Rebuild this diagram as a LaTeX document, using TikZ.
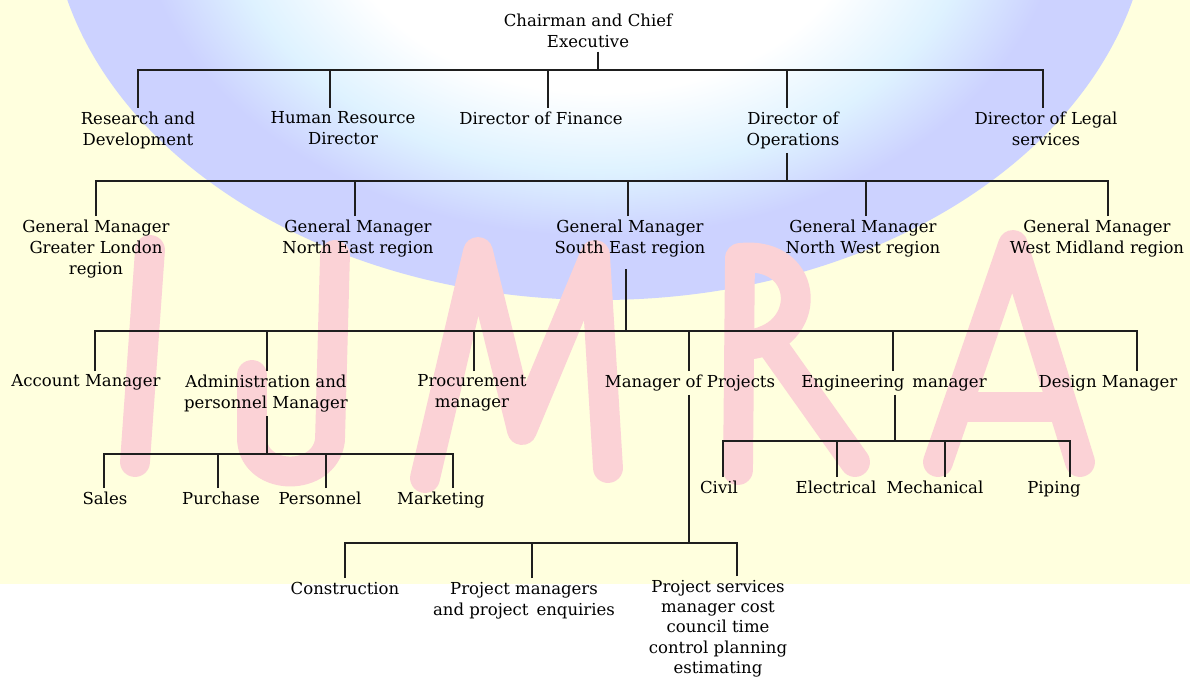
\documentclass[tikz,border=0pt]{standalone}
\usepackage{fontspec}
\setmainfont{DejaVu Serif}
\usetikzlibrary{calc}
\definecolor{bgyellow}{RGB}{255,255,222}
\definecolor{globeblue}{RGB}{204,210,255}
\definecolor{globecyan}{RGB}{222,242,255}
\definecolor{wmpink}{RGB}{251,210,214}
\definecolor{linegray}{RGB}{30,30,30}
\pgfdeclareradialshading{globe}{\pgfpoint{0bp}{0bp}}{color(0bp)=(white); color(12bp)=(white); color(17bp)=(globecyan); color(21bp)=(globeblue); color(25bp)=(globeblue); color(50bp)=(globeblue)}
\begin{document}
\begin{tikzpicture}[x=0.02cm, y=-0.02cm,
    lbl/.style={anchor=north, align=center, inner sep=2pt, text=black, font=\fontsize{9.4}{12}\selectfont},
    wm/.style={wmpink, line width=17pt, line cap=round, line join=round},
    conn/.style={linegray, line width=0.8pt}]
    \useasboundingbox (0,0) rectangle (1190,679);

    % background and watermark
    \begin{scope}
        \clip (0,0) rectangle (1190,679);
        \fill[bgyellow] (0,0) rectangle (1190,584);
        \shade[shading=globe] (600,-100) ellipse (550 and 400);
    \end{scope}
    \draw[wm] (150,250) -- (135,462);
    \draw[wm] (335,255) -- (330,440) .. controls (325,482) and (255,482) .. (252,440) -- (252,375);
    \draw[wm] (425,478) -- (478,252) -- (522,430) -- (595,255) -- (608,468);
    \draw[wm] (738,470) -- (740,258) .. controls (812,250) and (815,340) .. (745,345);
    \draw[wm] (772,345) -- (855,462);
    \draw[wm] (938,462) -- (1013,245) -- (1080,462);
    \draw[wm] (962,407) -- (1060,407);

    % top
    \node[lbl] (ceo) at (588,10) {Chairman and Chief\\Executive};

    % directors
    \node[lbl] (rd) at (138,108) {Research and\\Development};
    \node[lbl] (hr) at (343,108) {Human Resource\\Director};
    \node[lbl] (fin) at (541,108) {Director of Finance};
    \node[lbl] (ops) at (793,108) {Director of\\Operations};
    \node[lbl] (legal) at (1046,108) {Director of Legal\\services};

    % regions
    \node[lbl] (gml) at (96,216) {General Manager\\Greater London\\region};
    \node[lbl] (gmne) at (358,216) {General Manager\\North East region};
    \node[lbl] (gmse) at (630,216) {General Manager\\South East region};
    \node[lbl] (gmnw) at (863,216) {General Manager\\North West region};
    \node[lbl] (gmwm) at (1097,216) {General Manager\\West Midland region};

    % south east managers
    \node[lbl] (acc) at (86,371) {Account Manager};
    \node[lbl] (adm) at (266,371) {Administration and\\personnel Manager};
    \node[lbl] (proc) at (472,371) {Procurement\\manager};
    \node[lbl] (proj) at (690,371) {Manager of Projects};
    \node[lbl] (eng) at (894,371) {Engineering\, manager};
    \node[lbl] (des) at (1108,371) {Design Manager};

    % administration
    \node[lbl] (sales) at (105,488) {Sales};
    \node[lbl] (purch) at (221,488) {Purchase};
    \node[lbl] (pers) at (320,488) {Personnel};
    \node[lbl] (mark) at (441,488) {Marketing};

    % engineering
    \node[lbl] (civil) at (719,477) {Civil};
    \node[lbl] (elec) at (836,477) {Electrical};
    \node[lbl] (mech) at (935,477) {Mechanical};
    \node[lbl] (pip) at (1054,477) {Piping};

    % projects
    \node[lbl] (cons) at (345,578) {Construction};
    \node[lbl] (pm) at (524,578) {Project managers\\and project\, enquiries};
    \node[lbl, font=\fontsize{9.4}{11.6}\selectfont] (ps) at (718,576) {Project services\\manager cost\\council time\\control planning\\estimating};

    % junctions
    \coordinate (j0) at (598,70);
    \coordinate (j1) at (787,181);
    \coordinate (j2) at (626,331);
    \coordinate (j3) at (267,454);
    \coordinate (j4) at (895,441);
    \coordinate (j5) at (689,543);

    \draw[conn] (ceo.south -| j0) -- (j0);
    \foreach \c/\d in {rd/0, hr/-13, fin/7, ops/-6, legal/-3}
        \draw[conn] ($(\c.north)+(\d,0)$) |- (j0);

    \draw[conn] (ops.south -| j1) -- (j1);
    \foreach \c/\d in {gml/0, gmne/-3, gmse/-2, gmnw/3, gmwm/11}
        \draw[conn] ($(\c.north)+(\d,0)$) |- (j1);

    \draw[conn] ($(gmse.south -| j2)+(0,8)$) -- (j2);
    \foreach \c/\d in {acc/9, adm/1, proc/2, proj/-1, eng/-1, des/29}
        \draw[conn] ($(\c.north)+(\d,0)$) |- (j2);

    \draw[conn] (adm.south -| j3) -- (j3);
    \foreach \c/\d in {sales/-1, purch/-3, pers/6, mark/12}
        \draw[conn] ($(\c.north)+(\d,0)$) |- (j3);

    \draw[conn] (eng.south -| j4) -- (j4);
    \foreach \c/\d in {civil/4, elec/1, mech/10, pip/16}
        \draw[conn] ($(\c.north)+(\d,0)$) |- (j4);

    \draw[conn] (proj.south -| j5) -- (j5);
    \foreach \c/\d in {cons/0, pm/8, ps/19}
        \draw[conn] ($(\c.north)+(\d,0)$) |- (j5);
\end{tikzpicture}
\end{document}
